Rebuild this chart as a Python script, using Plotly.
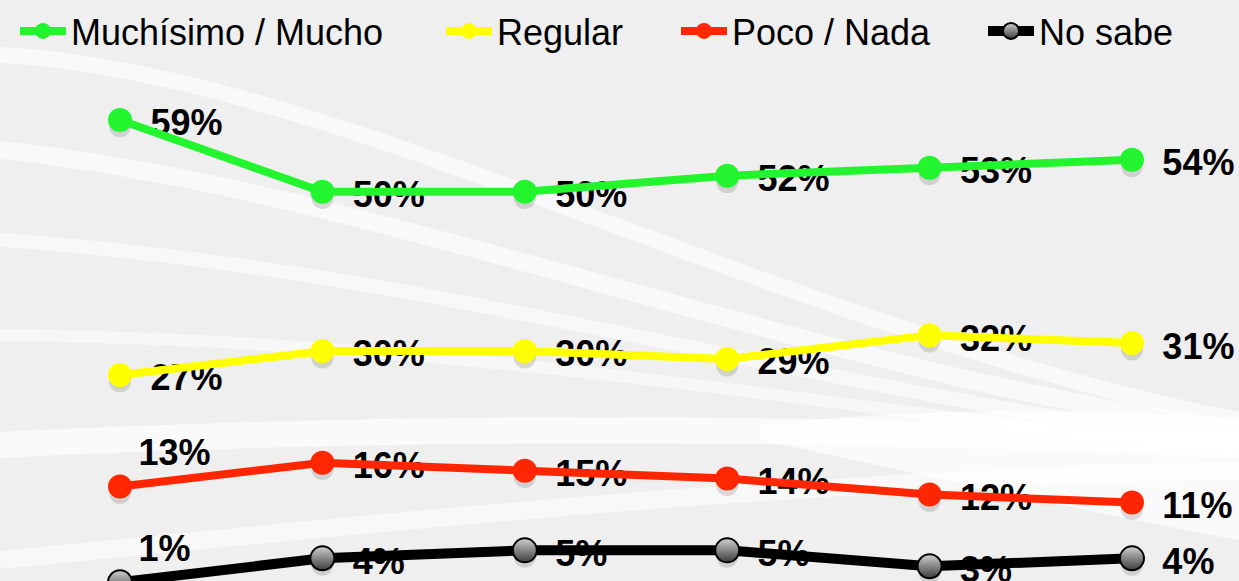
import plotly.graph_objects as go

# ---- data ----
periods = [0, 1, 2, 3, 4, 5]
mucho = [59, 50, 50, 52, 53, 54]
regular = [27, 30, 30, 29, 32, 31]
poco = [13, 16, 15, 14, 12, 11]
nosabe = [1, 4, 5, 5, 3, 4]

names = ["Muchísimo / Mucho", "Regular", "Poco / Nada", "No sabe"]
colors = ["#22f52e", "#ffff00", "#ff2600", "#000000"]
series = [mucho, regular, poco, nosabe]
# label placement per point
label_pos = [
    ["middle right"] * 6,
    ["middle right"] * 6,
    ["top right"] + ["middle right"] * 5,
    ["top right"] + ["middle right"] * 5,
]

W, H = 1239, 581
Y_LO, Y_HI = 1.154, 74.05
X_LO, X_HI = -0.5929, 5.5287
TXT_SHIFT = 0.8

fig = go.Figure()

# text labels and shadows on base axis (drawn beneath lines)
for vals, pos in zip(series, label_pos):
    sizes = [28 if p.startswith("top") else 47 for p in pos]
    fig.add_trace(go.Scatter(
        x=periods, y=vals, mode="markers", xaxis="x", yaxis="y",
        marker=dict(size=22, color="rgba(0,0,0,0.13)", line=dict(width=0)),
        showlegend=False, hoverinfo="skip", cliponaxis=True))
    fig.add_trace(go.Scatter(
        x=periods, y=vals, mode="markers+text", xaxis="x", yaxis="y",
        text=[f"{v}%" for v in vals], textposition=pos,
        textfont=dict(family="Liberation Sans, Arial", size=36, color="black", weight="bold"),
        marker=dict(size=sizes, color="rgba(0,0,0,0)", line=dict(width=0)),
        showlegend=False, hoverinfo="skip", cliponaxis=True))

legend_keys = ["legend", "legend2", "legend3", "legend4"]
for i, (name, col, vals) in enumerate(zip(names, colors, series)):
    if i == 3:
        marker = dict(size=24, color="#d0d0d0", line=dict(color="black", width=2),
                      gradient=dict(type="vertical", color="#3c3c3c"))
        lw = 10
    else:
        marker = dict(size=24, color=col, line=dict(width=0))
        lw = 8
    fig.add_trace(go.Scatter(
        x=periods, y=vals, mode="lines+markers", name=name, xaxis="x", yaxis="y2",
        line=dict(color=col, width=lw), marker=marker,
        legend=legend_keys[i], cliponaxis=True))

# background swooshes
def P(px, py):
    return f"{px / W:.4f},{1 - py / H:.4f}"

bands = [
    ((0, 55), (330, 70), (790, 333), (1239, 420), 16, 0.6),
    ((0, 150), (380, 190), (800, 370), (1239, 430), 18, 0.6),
    ((0, 240), (450, 270), (860, 405), (1239, 440), 14, 0.55),
    ((0, 335), (500, 340), (900, 420), (1239, 450), 12, 0.5),
    ((0, 445), (400, 425), (800, 425), (1239, 445), 26, 0.7),
    ((0, 560), (400, 520), (800, 480), (1239, 470), 18, 0.55),
]
shapes = []
for p0, c1, c2, p1, w, op in bands:
    shapes.append(dict(
        type="path", xref="paper", yref="paper", layer="below",
        path=f"M{P(*p0)} C{P(*c1)} {P(*c2)} {P(*p1)}",
        line=dict(color=f"rgba(255,255,255,{op})", width=w)))
shapes.append(dict(
    type="path", xref="paper", yref="paper", layer="below",
    path=f"M{P(760, 425)} C{P(950, 405)} {P(1100, 410)} {P(1239, 418)} L{P(1239, 540)} "
         f"C{P(1100, 515)} {P(950, 480)} {P(760, 440)} Z",
    fillcolor="rgba(255,255,255,0.7)", line=dict(width=0)))

legend_x = [15, 441, 676, 983]
legend_common = dict(orientation="h", xanchor="left", yanchor="middle", y=1 - 31 / H,
                     bgcolor="rgba(0,0,0,0)", borderwidth=0, itemwidth=46,
                     font=dict(family="Liberation Sans, Arial", size=36, color="black"))
layout_legends = {}
for k, lx in zip(legend_keys, legend_x):
    layout_legends[k] = dict(legend_common, x=lx / W)

fig.update_layout(
    width=W, height=H,
    margin=dict(l=0, r=0, t=0, b=0),
    paper_bgcolor="#efefef", plot_bgcolor="rgba(0,0,0,0)",
    xaxis=dict(range=[X_LO, X_HI], visible=False, fixedrange=True),
    yaxis=dict(range=[Y_LO + TXT_SHIFT, Y_HI + TXT_SHIFT], visible=False, fixedrange=True),
    yaxis2=dict(range=[Y_LO, Y_HI], overlaying="y", visible=False, fixedrange=True),
    shapes=shapes,
    showlegend=True,
    **layout_legends,
)

fig.write_html("out.html",
               config={"displayModeBar": False},
               post_script="document.body.style.margin='0';document.body.style.overflow='hidden';")
